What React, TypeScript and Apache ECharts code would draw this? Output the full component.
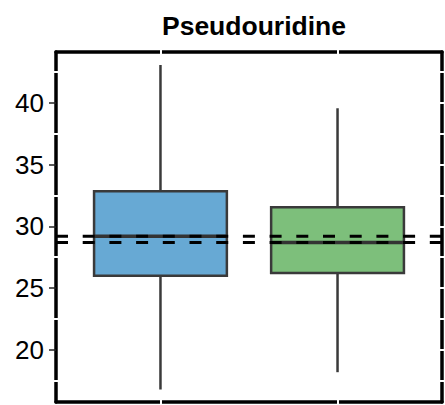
import React, { useEffect, useRef } from "react";
import * as echarts from "echarts";

const groups = ["Group 1", "Group 2"];
const whiskerLow = [16.8, 18.2];
const q1 = [26.0, 26.23];
const median = [29.2, 28.7];
const q3 = [32.83, 31.54];
const whiskerHigh = [43.05, 39.55];
const majorTicks = [20, 25, 30, 35, 40];
const minorTicks = [17.5, 22.5, 27.5, 32.5, 37.5, 42.5];
const allTicks = [17.5, 20, 22.5, 25, 27.5, 30, 32.5, 35, 37.5, 40, 42.5];
const xTicks = [0, 1];

const BOX_COLORS = ["#67a9d4", "#7dbf7b"];
const EDGE = "#3a3a3a";
const X_MIN = -0.59;
const X_MAX = 1.59;
const Y_MIN = 15.79;
const Y_MAX = 44.1;
const BOX_WIDTH = 0.75;
const FONT = "'Liberation Sans', Arial, Helvetica, sans-serif";

export default function App() {
  const ref = useRef<HTMLDivElement>(null);
  useEffect(() => {
    if (!ref.current) return;
    const chart = echarts.init(ref.current, undefined, { renderer: "svg" });
    const boxData = groups.map((_, i) => [i, whiskerLow[i], q1[i], median[i], q3[i], whiskerHigh[i]]);
    const blackLine = { show: true, onZero: false, lineStyle: { color: "#000", width: 3.5 } };
    const hiddenLine = { show: false, onZero: false };
    const noLabel = { show: false };
    const xBase = {
      type: "value",
      min: X_MIN,
      max: X_MAX,
      splitLine: { show: false },
      axisLabel: noLabel,
    };
    const yBase = {
      type: "value",
      min: Y_MIN,
      max: Y_MAX,
      splitLine: { show: false },
      axisLabel: noLabel,
    };
    const whiteTick = (vals: number[], len: number) => ({
      show: true,
      customValues: vals,
      inside: false,
      length: len,
      lineStyle: { color: "#fff", width: 2 },
    });
    const option: any = {
      animation: false,
      title: {
        text: "Pseudouridine",
        left: 249,
        top: 7,
        textAlign: "center",
        textStyle: { fontFamily: FONT, fontWeight: "bold", fontSize: 26.5, color: "#000" },
      },
      grid: { left: 56, right: 3, top: 52, bottom: 3 },
      xAxis: [
        { ...xBase, position: "bottom", axisLine: blackLine, axisTick: { show: false } },
        { ...xBase, position: "top", axisLine: blackLine, axisTick: { show: false } },
        { ...xBase, position: "bottom", offset: -3, axisLine: hiddenLine, axisTick: whiteTick(xTicks, 5.5) },
        { ...xBase, position: "top", offset: -3, axisLine: hiddenLine, axisTick: whiteTick(xTicks, 5.5) },
      ],
      yAxis: [
        {
          ...yBase,
          position: "left",
          axisLine: blackLine,
          axisTick: { show: true, customValues: majorTicks, length: 7, lineStyle: { color: "#222", width: 1.5 } },
          axisLabel: {
            show: true,
            customValues: majorTicks,
            fontSize: 26,
            fontFamily: FONT,
            color: "#000",
            margin: 12,
          },
        },
        { ...yBase, position: "right", axisLine: blackLine, axisTick: { show: false } },
        { ...yBase, position: "left", offset: -3, axisLine: hiddenLine, axisTick: whiteTick(minorTicks, 5.5) },
        { ...yBase, position: "right", offset: -3, axisLine: hiddenLine, axisTick: whiteTick(allTicks, 5) },
      ],
      series: [
        {
          type: "custom",
          xAxisIndex: 0,
          yAxisIndex: 0,
          data: boxData,
          z: 2,
          renderItem: (params: any, api: any) => {
            const x = api.value(0);
            const lo = api.coord([x, api.value(1)]);
            const b = api.coord([x, api.value(2)]);
            const m = api.coord([x, api.value(3)]);
            const t = api.coord([x, api.value(4)]);
            const hi = api.coord([x, api.value(5)]);
            const half = api.size([BOX_WIDTH, 0])[0] / 2;
            const color = BOX_COLORS[params.dataIndex % BOX_COLORS.length];
            return {
              type: "group",
              children: [
                { type: "line", shape: { x1: hi[0], y1: hi[1], x2: t[0], y2: t[1] }, style: { stroke: EDGE, lineWidth: 2.5 } },
                { type: "line", shape: { x1: lo[0], y1: lo[1], x2: b[0], y2: b[1] }, style: { stroke: EDGE, lineWidth: 2.5 } },
                {
                  type: "rect",
                  shape: { x: t[0] - half, y: t[1], width: half * 2, height: b[1] - t[1] },
                  style: { fill: color, stroke: EDGE, lineWidth: 2.5 },
                },
                {
                  type: "line",
                  shape: { x1: m[0] - half, y1: m[1], x2: m[0] + half, y2: m[1] },
                  style: { stroke: "#333", lineWidth: 3.5 },
                },
              ],
            };
          },
        },
        ...median.map((v) => ({
          type: "line",
          xAxisIndex: 0,
          yAxisIndex: 0,
          data: [
            [X_MIN, v],
            [X_MAX, v],
          ],
          symbol: "none",
          z: 3,
          silent: true,
          lineStyle: { color: "#000", width: 3, type: [12, 14.7] },
        })),
      ],
    };
    chart.setOption(option);
    return () => chart.dispose();
  }, []);
  return <div ref={ref} style={{ width: 445, height: 405, position: "absolute", left: 0, top: 0 }} />;
}
